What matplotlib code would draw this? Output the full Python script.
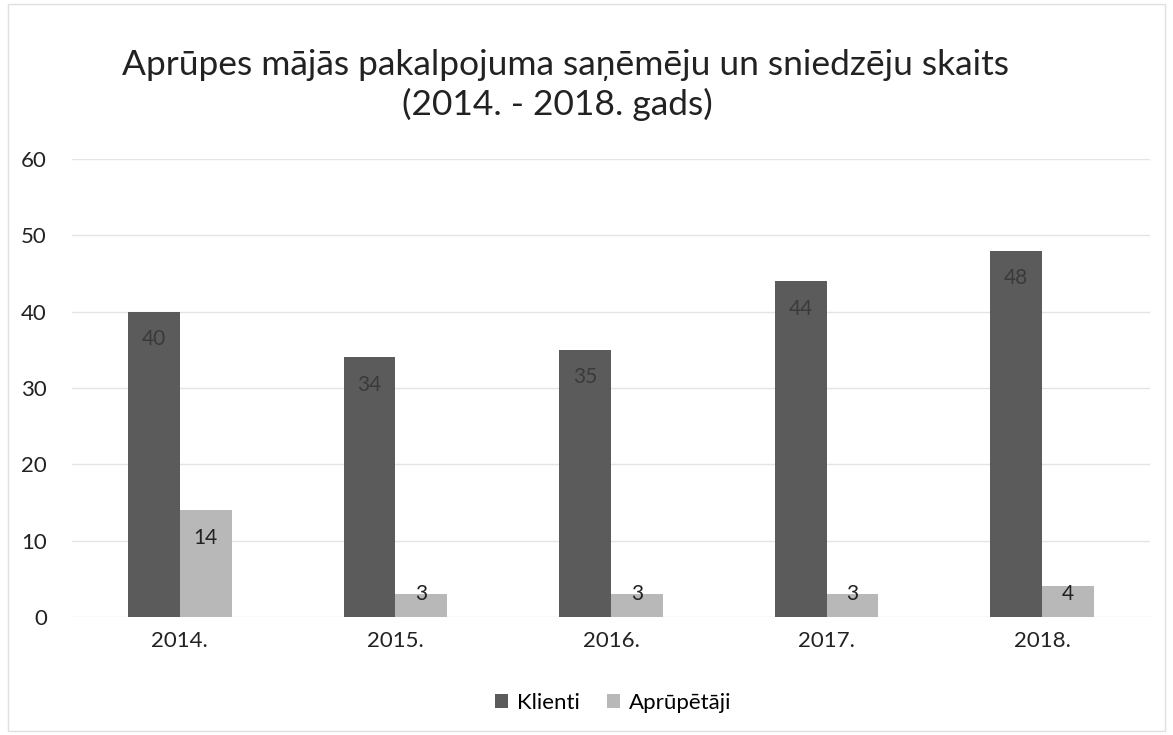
import numpy as np
import matplotlib.pyplot as plt
from matplotlib.patches import Rectangle

years = ['2014.', '2015.', '2016.', '2017.', '2018.']
klienti = [40, 34, 35, 44, 48]
aprupetaji = [14, 3, 3, 3, 4]

plt.rcParams['font.family'] = ['Lato', 'DejaVu Sans']

fig = plt.figure(figsize=(11.73, 7.35), dpi=100)
ax = fig.add_axes([72 / 1173, 1 - 617 / 735, (1150 - 72) / 1173, (617 - 159) / 735])

x = np.arange(len(years))
w = 0.24
b1 = ax.bar(x - w / 2, klienti, w, color='#5b5b5b', label='Klienti', zorder=3)
b2 = ax.bar(x + w / 2, aprupetaji, w, color='#b8b8b8', label='Aprūpētāji', zorder=3)

for bars, vals, col in [(b1, klienti, '#3a3a3a'), (b2, aprupetaji, '#222222')]:
    for r, v in zip(bars, vals):
        y = max(v - 3.6, 3.0)
        ax.text(r.get_x() + r.get_width() / 2, y, str(v), ha='center', va='center',
                fontsize=15, color=col, zorder=4)

ax.set_xlim(-0.5, len(years) - 0.5)
ax.set_ylim(0, 60)
ax.set_yticks(range(0, 61, 10))
ax.set_xticks(x)
ax.set_xticklabels(years)
ax.tick_params(length=0, labelsize=16, colors='#222222')
ax.tick_params(axis='y', pad=18)
ax.tick_params(axis='x', pad=10)
ax.yaxis.grid(True, color='#e4e4e4', linewidth=1)
for s in ax.spines.values():
    s.set_visible(False)

fig.text(565 / 1173, 1 - 65 / 735, 'Aprūpes mājās pakalpojuma saņēmēju un sniedzēju skaits',
         ha='center', va='center', fontsize=25.5, color='#222222')
fig.text(557 / 1173, 1 - 104 / 735, '(2014. - 2018. gads)',
         ha='center', va='center', fontsize=25.5, color='#222222')

fig.legend(handles=[b1, b2], loc='center', bbox_to_anchor=(613 / 1173, 1 - 703 / 735),
           ncol=2, frameon=False, fontsize=16, handlelength=0.6, handleheight=0.6,
           handletextpad=0.4, columnspacing=1.2)

fig.patches.append(Rectangle((8 / 1173, 0.005), 1 - 16 / 1173, 0.99, transform=fig.transFigure,
                             fill=False, edgecolor='#e0e0e0', linewidth=1))

fig.savefig('out.png', dpi=100)
